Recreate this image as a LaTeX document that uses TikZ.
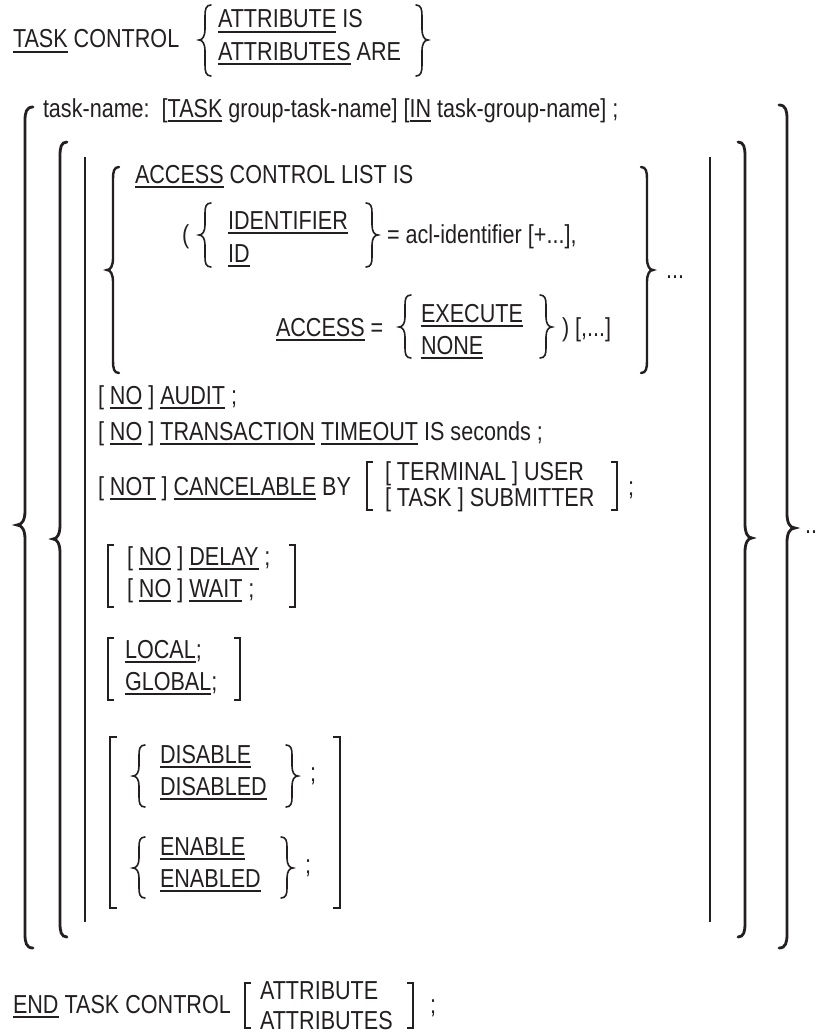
\documentclass[tikz,border=0pt]{standalone}
\usepackage{fontspec}
\setmainfont{Liberation Sans}[FakeStretch=0.83]
\definecolor{ink}{RGB}{35,31,32}
\newcommand\UL[1]{\setbox0=\hbox{#1}\rlap{\vrule width\wd0 height -3pt depth 4.8pt}\box0\relax}
% #1 style, #2 x of stem, #3 top y, #4 tip y, #5 bottom y, #6 curl width (neg = right brace), #7 curl height
\newcommand\Brace[7][]{\draw[#1] ({#2+(#6)},#3) .. controls ({#2+0.15*(#6)},#3) and (#2,{#3+0.4*(#7)}) .. (#2,{#3+(#7)}) -- (#2,{#4-(#7)}) .. controls (#2,{#4-0.35*(#7)}) and ({#2-0.4*(#6)},#4) .. ({#2-(#6)},#4) .. controls ({#2-0.4*(#6)},#4) and (#2,{#4+0.35*(#7)}) .. (#2,{#4+(#7)}) -- (#2,{#5-(#7)}) .. controls (#2,{#5-0.4*(#7)}) and ({#2+0.15*(#6)},#5) .. ({#2+(#6)},#5);}
% #1 style, #2 x, #3 top y, #4 bottom y, #5 hook width (neg = right bracket)
\newcommand\Brk[5][]{\draw[brk,#1] ({#2+(#5)},#3) -- (#2,#3) -- (#2,#4) -- ({#2+(#5)},#4);}
\tikzset{
  txt/.style={anchor=base west, inner sep=0pt, outer sep=0pt},
  bigbrace/.style={line width=2.8pt, line cap=round},
  aclbrace/.style={line width=2.4pt, line cap=round},
  sbrace/.style={line width=1.6pt, line cap=round},
  thinl/.style={line width=1.2pt},
  brk/.style={line width=1.6pt}
}
\begin{document}
\begin{tikzpicture}[x=1pt, y=-1pt, color=ink, font=\fontsize{26}{30}\selectfont]
\useasboundingbox (0,0) rectangle (815,1033);
\fill[white] (0,0) rectangle (815,1033);
% header
\node[txt] (tc) at (13,48) {\UL{TASK} CONTROL};
\Brace[sbrace]{205}{5}{40}{76}{6}{11}
\node[txt] (ai) at (218,28) {\UL{ATTRIBUTE} IS};
\node[txt] (aa) at (218,60) {\UL{ATTRIBUTES} ARE};
\Brace[sbrace]{422}{5}{40}{76}{-6}{11}
\node[txt] (tn) at (43,117) {task-name:\ \ [\UL{TASK} group-task-name] [\UL{IN} task-group-name] ;};
% outer structure
\Brace[bigbrace]{25}{107}{525}{948}{8}{14}
\Brace[bigbrace]{60}{142}{539}{937}{7}{14}
\draw[thinl] (85,157) -- (85,922);
\draw[thinl] (710,157) -- (710,922);
\Brace[bigbrace]{745}{142}{538}{937}{-7}{14}
\Brace[bigbrace]{787}{105}{528}{948}{-8}{14}
\node[txt] (d2) at (805,533) {...};
% ACL block
\Brace[aclbrace]{113}{167}{270}{373}{6}{12}
\node[txt] (acl) at (135,183) {\UL{ACCESS} CONTROL LIST IS};
\node[txt] (lp) at (182,243) {(};
\Brace[sbrace]{205}{203}{235}{267}{6}{10}
\node[txt] (idf) at (228,229) {\UL{IDENTIFIER}};
\node[txt] (id) at (228,262) {\UL{ID}};
\Brace[sbrace]{372}{203}{235}{267}{-6}{10}
\node[txt] (acli) at (387,243) {= acl-identifier [+...],};
\node[txt] (acc) at (276,336) {\UL{ACCESS} =};
\Brace[sbrace]{405}{295}{327}{358}{6}{10}
\node[txt] (exe) at (421,322) {\UL{EXECUTE}};
\node[txt] (non) at (421,354) {\UL{NONE}};
\Brace[sbrace]{546}{295}{327}{358}{-6}{10}
\node[txt] (rp) at (562,336) {) [,...]};
\Brace[aclbrace]{647}{167}{270}{373}{-6}{12}
\node[txt] (d1) at (666,278) {...};
% simple clauses
\node[txt] (aud) at (98,404) {[ \UL{NO} ] \UL{AUDIT} ;};
\node[txt] (trn) at (98,440) {[ \UL{NO} ] \UL{TRANSACTION} \UL{TIMEOUT} IS seconds ;};
\node[txt] (can) at (98,495) {[ \UL{NOT} ] \UL{CANCELABLE} BY};
\Brk{367}{462}{510}{6}
\node[txt] (ter) at (385,480) {[ TERMINAL ] USER};
\node[txt] (sub) at (385,506) {[ TASK ] SUBMITTER};
\Brk{617}{462}{510}{-6}
\node[txt] (sc1) at (628,495) {;};
% delay / wait
\Brk{108}{545}{607}{6}
\node[txt] (del) at (127,565) {[ \UL{NO} ] \UL{DELAY} ;};
\node[txt] (wai) at (127,597) {[ \UL{NO} ] \UL{WAIT} ;};
\Brk{295}{545}{607}{-6}
% local / global
\Brk{108}{638}{700}{6}
\node[txt] (loc) at (125,658) {\UL{LOCAL};};
\node[txt] (glo) at (125,690) {\UL{GLOBAL};};
\Brk{240}{638}{700}{-6}
% disable / enable
\Brk{110}{737}{908}{7}
\Brk{340}{737}{908}{-7}
\Brace[sbrace]{139}{745}{776}{807}{6}{10}
\node[txt] (dis) at (160,763) {\UL{DISABLE}};
\node[txt] (dsd) at (160,795) {\UL{DISABLED}};
\Brace[sbrace]{292}{745}{776}{807}{-6}{10}
\node[txt] (sc2) at (310,781) {;};
\Brace[sbrace]{139}{837}{868}{898}{6}{10}
\node[txt] (ena) at (160,855) {\UL{ENABLE}};
\node[txt] (end) at (160,887) {\UL{ENABLED}};
\Brace[sbrace]{287}{837}{868}{898}{-6}{10}
\node[txt] (sc3) at (305,873) {;};
% footer
\node[txt] (etc) at (13,1013) {\UL{END} TASK CONTROL};
\Brk{245}{983}{1028}{6}
\node[txt] (fa1) at (260,999) {ATTRIBUTE};
\node[txt] (fa2) at (260,1029) {ATTRIBUTES};
\Brk{413}{983}{1028}{-6}
\node[txt] (sc4) at (430,1013) {;};
\end{tikzpicture}
\end{document}
